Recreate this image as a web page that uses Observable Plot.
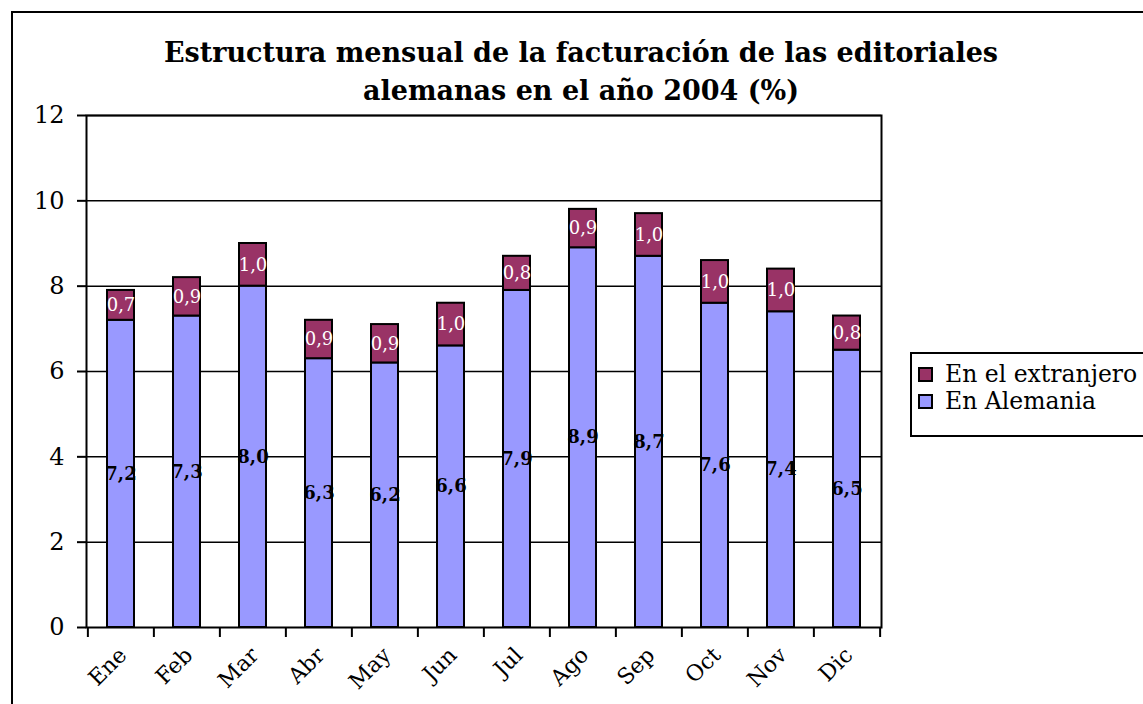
<!DOCTYPE html>
<html><head><meta charset="utf-8">
<script src="https://cdn.jsdelivr.net/npm/d3@7"></script>
<script src="https://cdn.jsdelivr.net/npm/@observablehq/plot@0.6"></script>
<style>
body{margin:0;background:#fff;}
#wrap{position:relative;width:1143px;height:704px;overflow:hidden;font-family:"DejaVu Serif",serif;}
#border{position:absolute;left:11px;top:11px;width:1200px;height:800px;border:2px solid #000;box-sizing:border-box;}
#chart{position:absolute;left:0;top:0;}
#title{position:absolute;left:0;width:1162px;top:34px;text-align:center;font-weight:bold;font-size:27px;line-height:38px;}
#legend{position:absolute;left:910px;top:352px;width:260px;height:85px;border:2px solid #000;box-sizing:border-box;background:#fff;font-size:23.5px;}
.item{position:absolute;left:6px;height:28px;line-height:28px;white-space:nowrap;}
.sw{display:inline-block;width:11px;height:11px;border:2px solid #000;margin-right:12px;vertical-align:0px;}
</style></head><body>
<div id="wrap"><div id="border"></div><div id="chart"></div>
<div id="title">Estructura mensual de la facturación de las editoriales<br>alemanas en el año 2004 (%)</div>
<div id="legend"></div></div>
<script>
const months = ["Ene","Feb","Mar","Abr","May","Jun","Jul","Ago","Sep","Oct","Nov","Dic"];
const alemania = [7.2,7.3,8.0,6.3,6.2,6.6,7.9,8.9,8.7,7.6,7.4,6.5];
const extranjero = [0.7,0.9,1.0,0.9,0.9,1.0,0.8,0.9,1.0,1.0,1.0,0.8];
const series = ["En Alemania","En el extranjero"];
const colors = ["#9999FF","#993366"];
const yTicks = [0,2,4,6,8,10,12];

const data = months.flatMap((m,i)=>[
  {mes:m, serie:series[0], valor:alemania[i]},
  {mes:m, serie:series[1], valor:extranjero[i]}
]);
const fmt = v => d3.format(".1f")(v).replace(".", ",");

const W = 1143, ML = 86, MR = 262;
const step = (W - ML - MR) / months.length;
const tickLen = 10 / ((704 - 115 - 77) / 12);

const chart = Plot.plot({
  width: W, height: 704,
  marginLeft: ML, marginRight: MR, marginTop: 115, marginBottom: 77,
  style: {fontFamily: "DejaVu Serif", background: "transparent", overflow: "visible", color: "#000"},
  x: {domain: months, paddingInner: 0.59, paddingOuter: 0.295, label: null, axis: null},
  y: {domain: [0, 12], label: null, axis: null},
  color: {domain: series, range: colors},
  marks: [
    Plot.ruleY(yTicks.slice(1), {stroke: "#000", strokeWidth: 1.5}),
    Plot.barY(data, {x: "mes", y: "valor", fill: "serie", z: "serie", order: series, stroke: "#000", strokeWidth: 2}),
    Plot.text(data, Plot.stackY({x: "mes", y: "valor", z: "serie", order: series,
      text: d => d.serie === series[0] ? fmt(d.valor) : null, fill: "#000", fontWeight: "bold", fontSize: 18})),
    Plot.text(data, Plot.stackY({x: "mes", y: "valor", z: "serie", order: series,
      text: d => d.serie === series[1] ? fmt(d.valor) : null, fill: "#fff", fontSize: 18})),
    Plot.frame({stroke: "#000", strokeWidth: 2}),
    Plot.axisY({ticks: yTicks, tickSize: 9, tickPadding: 13, fontSize: 24, tickFormat: d => String(d), strokeWidth: 2}),
    Plot.text(months, {x: d => d, frameAnchor: "bottom", text: d => d, rotate: -45, textAnchor: "end",
      lineAnchor: "middle", dy: 24, dx: 2, fontSize: 22, fill: "#000", clip: false}),
    Plot.ruleX(months, {x: d => d, dx: -step / 2, y1: 0, y2: -tickLen, stroke: "#000", strokeWidth: 2, clip: false}),
    Plot.ruleX([months[months.length - 1]], {x: d => d, dx: step / 2, y1: 0, y2: -tickLen, stroke: "#000", strokeWidth: 2, clip: false})
  ]
});
document.getElementById("chart").appendChild(chart);

const legend = document.getElementById("legend");
[[series[1], colors[1]], [series[0], colors[0]]].forEach(([name, c], i) => {
  const it = document.createElement("div");
  it.className = "item";
  it.style.top = (6 + i * 27) + "px";
  it.innerHTML = `<span class="sw" style="background:${c}"></span>${name}`;
  legend.appendChild(it);
});
</script>
</body></html>
